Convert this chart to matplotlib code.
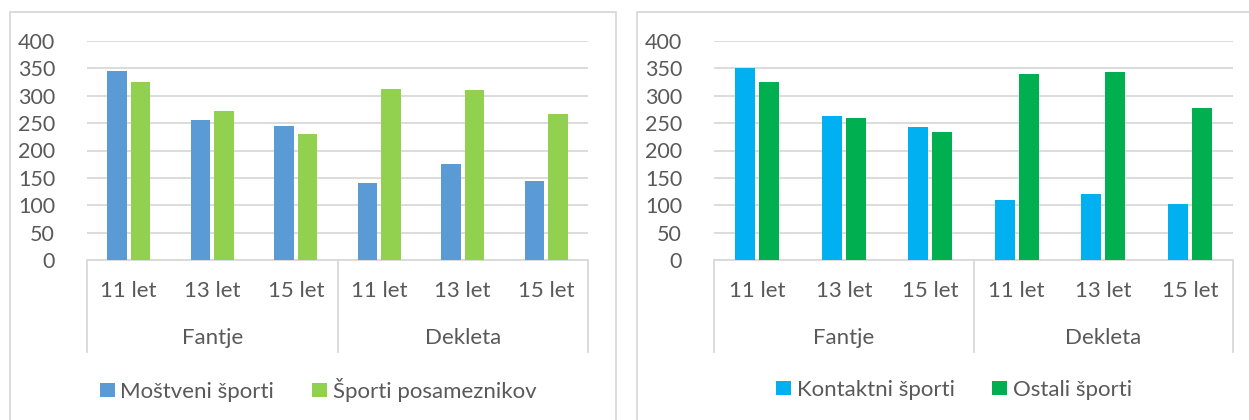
import matplotlib.pyplot as plt
from matplotlib.patches import Rectangle

# podatki
starosti = ["11 let", "13 let", "15 let", "11 let", "13 let", "15 let"]
skupine = ["Fantje", "Dekleta"]

mostveni = [345, 255, 244, 140, 176, 145]
posamezni = [325, 272, 231, 312, 311, 266]

kontaktni = [350, 263, 243, 109, 120, 103]
ostali = [325, 259, 234, 340, 343, 278]

W, H = 1249, 420
plt.rcParams['font.family'] = ['Lato', 'DejaVu Sans']
plt.rcParams['font.size'] = 16
siva = "#595959"
mreza = "#D9D9D9"


def px(x0, y0, x1, y1):
    # pretvorba pikslov (od zgoraj) v koordinate slike
    return [x0 / W, 1 - y1 / H, (x1 - x0) / W, (y1 - y0) / H]


def graf(fig, rect, a, b, imena, barve, leg_x):
    ax = fig.add_axes(rect)
    x = list(range(len(a)))
    ax.bar([i - 0.14 for i in x], a, width=0.23, color=barve[0], label=imena[0], zorder=3)
    ax.bar([i + 0.14 for i in x], b, width=0.23, color=barve[1], label=imena[1], zorder=3)
    ax.set_xlim(-0.5, 5.5)
    ax.set_ylim(0, 400)
    ax.set_yticks(range(0, 401, 50))
    ax.tick_params(axis="y", length=0, pad=23, colors=siva, labelsize=15.5)
    ax.set_xticks([])
    for s in ["top", "right", "left"]:
        ax.spines[s].set_visible(False)
    ax.spines["bottom"].set_color(mreza)
    ax.spines["bottom"].set_linewidth(1.3)
    ax.yaxis.grid(True, color=mreza, linewidth=1.3, zorder=0)
    ax.set_axisbelow(True)
    tr = ax.get_xaxis_transform()
    for sx in [-0.5, 2.5, 5.5]:
        ax.plot([sx, sx], [0, -0.42], transform=tr, color=mreza, lw=1.3, clip_on=False)
    for i, t in enumerate(starosti):
        ax.text(i, -0.1416, t, transform=tr, ha="center", va="center", color=siva)
    for j, g in enumerate(skupine):
        ax.text(1 + 3 * j, -0.356, g, transform=tr, ha="center", va="center", color=siva)
    fig.legend(*ax.get_legend_handles_labels(), loc="center", ncol=2, frameon=False,
               bbox_to_anchor=(leg_x / W, 1 - 390 / H), handlelength=0.68, handleheight=0.6,
               handletextpad=0.25, columnspacing=1.7, labelcolor=siva, fontsize=16)
    return ax


fig = plt.figure(figsize=(W / 100, H / 100), dpi=100)
for x0, x1 in [(10, 616), (637, 1262)]:
    fig.patches.append(Rectangle((x0 / W, -0.1), (x1 - x0) / W, 1.1 - 12 / H,
                                 transform=fig.transFigure, fill=False,
                                 edgecolor=mreza, linewidth=1.3))

graf(fig, px(87, 41, 588, 260), mostveni, posamezni,
     ["Moštveni športi", "Športi posameznikov"], ["#5B9BD5", "#92D050"], 318)
graf(fig, px(714, 41, 1233, 260), kontaktni, ostali,
     ["Kontaktni športi", "Ostali športi"], ["#00B0F0", "#00B050"], 954)

fig.savefig("out.png", dpi=100)
